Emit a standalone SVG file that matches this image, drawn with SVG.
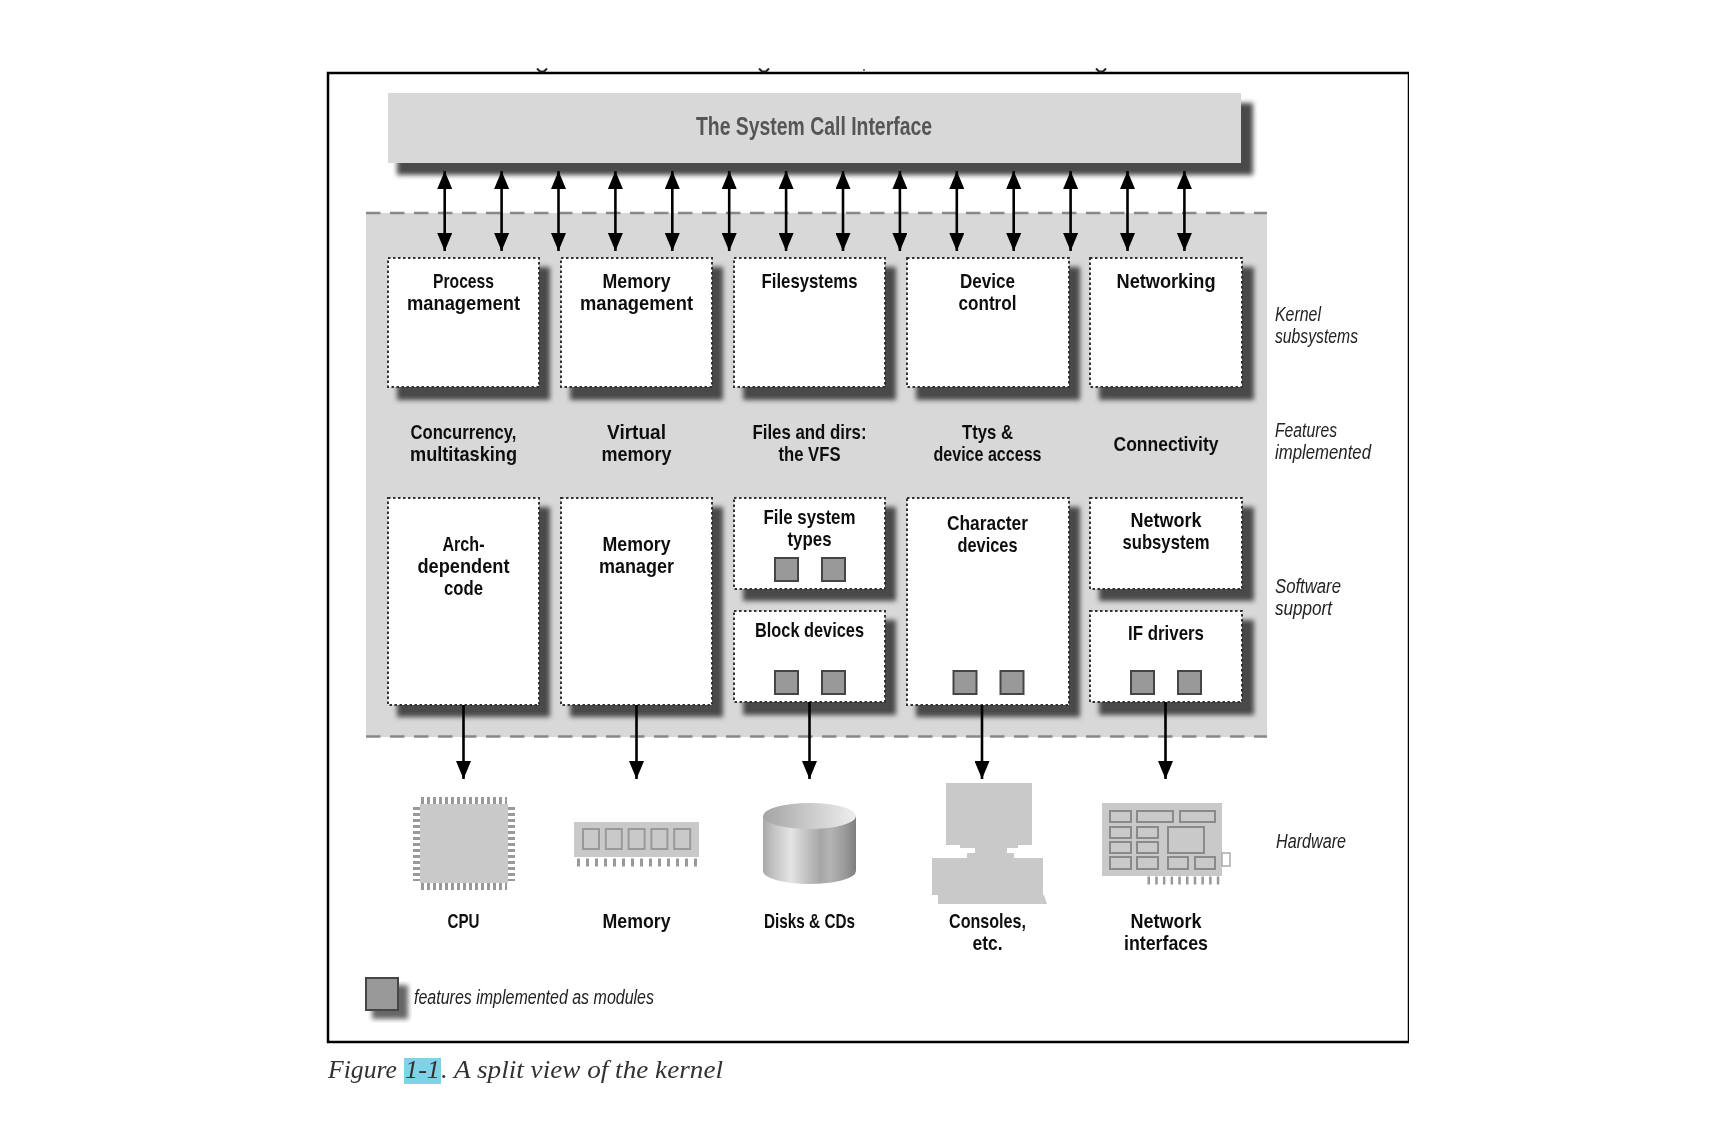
<svg xmlns="http://www.w3.org/2000/svg" width="1734" height="1148" viewBox="0 0 1734 1148">
<defs>
<filter id="soft" x="0" y="0" width="100%" height="100%"><feGaussianBlur stdDeviation="0.6"/></filter>
<filter id="sh" x="-10%" y="-10%" width="120%" height="120%"><feGaussianBlur stdDeviation="2.6"/></filter>
<linearGradient id="diskG" x1="0" x2="1" y1="0" y2="0">
<stop offset="0" stop-color="#a8a8a8"/><stop offset=".12" stop-color="#c4c4c4"/><stop offset=".3" stop-color="#e4e4e4"/><stop offset=".45" stop-color="#c6c6c6"/><stop offset=".62" stop-color="#a6a6a6"/><stop offset=".72" stop-color="#b4b4b4"/><stop offset=".88" stop-color="#9a9a9a"/><stop offset="1" stop-color="#7e7e7e"/>
</linearGradient>
<linearGradient id="diskT" x1="0" x2="1" y1="0" y2="0">
<stop offset="0" stop-color="#a4a4a4"/><stop offset=".5" stop-color="#cacaca"/><stop offset="1" stop-color="#eeeeee"/>
</linearGradient>
<marker id="ah" viewBox="0 0 18 15" refX="18" refY="7.5" markerWidth="18" markerHeight="15" markerUnits="userSpaceOnUse" orient="auto-start-reverse"><path d="M0 0L18 7.5L0 15Z" fill="#000"/></marker>
<rect id="mod" width="23" height="23" class="mod"/>
</defs>
<style>
text{font-family:"Liberation Sans Narrow","Liberation Sans",Arial,sans-serif;fill:#111}
.b{font-size:21px;font-weight:700;text-anchor:middle}
.i{font-size:20px;font-style:italic;fill:#222}
.box{fill:#fff;stroke:#333;stroke-width:2;stroke-dasharray:2.5 2.5}
.shd{fill:#4a4a4a;filter:url(#sh)}
.mod{fill:#999;stroke:#444;stroke-width:2}
.dash{stroke:#888;stroke-width:2.5;stroke-dasharray:14.5 9.5;fill:none}
.arr{stroke:#000;stroke-width:2.6;fill:none}
.hw{fill:#c9c9c9}
.pin{stroke:#999;fill:none}
.chip{fill:none;stroke:#999;stroke-width:2}
</style>
<rect width="1734" height="1148" fill="#fff"/>
<g filter="url(#soft)">
<g id="frame">
<rect x="328" y="73" width="1081" height="969" fill="#fff" stroke="#000" stroke-width="2.5"/>
<path d="M537 68.500L540 71.500H544L547 68.500M759 68.500L762 71.500H766L769 68.500M1096 68.500L1099 71.500H1103L1106 68.500" fill="none" stroke="#222" stroke-width="2"/>
<rect x="863" y="69" width="2" height="2" fill="#777"/>
</g>
<g id="kernel-panel">
<rect x="366" y="213" width="901" height="524" fill="#d8d8d8"/>
<path class="dash" d="M366 213H1267M366 736.500H1267"/>
</g>
<g id="syscall">
<rect class="shd" x="397" y="103" width="856" height="72"/>
<rect x="388" y="93" width="853" height="70" fill="#d8d8d8"/>
<text x="814" y="135" text-anchor="middle" font-size="25" font-weight="700" style="fill:#555" textLength="236" lengthAdjust="spacingAndGlyphs">The System Call Interface</text>
</g>
<g id="process-management">
<rect class="shd" x="397" y="267" width="153" height="133"/>
<rect class="box" x="388" y="258" width="151" height="129"/>
<text class="b" x="463.500" y="287.500" textLength="61" lengthAdjust="spacingAndGlyphs">Process</text>
<text class="b" x="463.500" y="309.500" textLength="113" lengthAdjust="spacingAndGlyphs">management</text>
</g>
<g id="memory-management">
<rect class="shd" x="570" y="267" width="153" height="133"/>
<rect class="box" x="561" y="258" width="151" height="129"/>
<text class="b" x="636.500" y="287.500" textLength="68" lengthAdjust="spacingAndGlyphs">Memory</text>
<text class="b" x="636.500" y="309.500" textLength="113" lengthAdjust="spacingAndGlyphs">management</text>
</g>
<g id="filesystems">
<rect class="shd" x="743" y="267" width="153" height="133"/>
<rect class="box" x="734" y="258" width="151" height="129"/>
<text class="b" x="809.500" y="287.500" textLength="96" lengthAdjust="spacingAndGlyphs">Filesystems</text>
</g>
<g id="device-control">
<rect class="shd" x="916" y="267" width="164" height="133"/>
<rect class="box" x="907" y="258" width="162" height="129"/>
<text class="b" x="987.500" y="287.500" textLength="55" lengthAdjust="spacingAndGlyphs">Device</text>
<text class="b" x="987.500" y="309.500" textLength="58" lengthAdjust="spacingAndGlyphs">control</text>
</g>
<g id="networking">
<rect class="shd" x="1099" y="267" width="155" height="133"/>
<rect class="box" x="1090" y="258" width="152" height="129"/>
<text class="b" x="1166" y="287.500" textLength="99" lengthAdjust="spacingAndGlyphs">Networking</text>
</g>
<g id="features">
<text class="b" x="463.500" y="438.500" textLength="106" lengthAdjust="spacingAndGlyphs">Concurrency,</text>
<text class="b" x="463.500" y="460.500" textLength="107" lengthAdjust="spacingAndGlyphs">multitasking</text>
<text class="b" x="636.500" y="438.500" textLength="59" lengthAdjust="spacingAndGlyphs">Virtual</text>
<text class="b" x="636.500" y="460.500" textLength="70" lengthAdjust="spacingAndGlyphs">memory</text>
<text class="b" x="809.500" y="438.500" textLength="114" lengthAdjust="spacingAndGlyphs">Files and dirs:</text>
<text class="b" x="809.500" y="460.500" textLength="62" lengthAdjust="spacingAndGlyphs">the VFS</text>
<text class="b" x="987.500" y="438.500" textLength="51" lengthAdjust="spacingAndGlyphs">Ttys &amp;</text>
<text class="b" x="987.500" y="460.500" textLength="108" lengthAdjust="spacingAndGlyphs">device access</text>
<text class="b" x="1166" y="450.500" textLength="105" lengthAdjust="spacingAndGlyphs">Connectivity</text>
</g>
<g id="arch-code">
<rect class="shd" x="397" y="507" width="153" height="210"/>
<rect class="box" x="388" y="498" width="151" height="207"/>
<text class="b" x="463.500" y="550.500" textLength="42" lengthAdjust="spacingAndGlyphs">Arch-</text>
<text class="b" x="463.500" y="572.500" textLength="92" lengthAdjust="spacingAndGlyphs">dependent</text>
<text class="b" x="463.500" y="594.500" textLength="39" lengthAdjust="spacingAndGlyphs">code</text>
</g>
<g id="memory-manager">
<rect class="shd" x="570" y="507" width="153" height="210"/>
<rect class="box" x="561" y="498" width="151" height="207"/>
<text class="b" x="636.500" y="550.500" textLength="68" lengthAdjust="spacingAndGlyphs">Memory</text>
<text class="b" x="636.500" y="572.500" textLength="75" lengthAdjust="spacingAndGlyphs">manager</text>
</g>
<g id="fs-types">
<rect class="shd" x="743" y="507" width="153" height="94"/>
<rect class="box" x="734" y="498" width="151" height="91"/>
<text class="b" x="809.500" y="523.500" textLength="92" lengthAdjust="spacingAndGlyphs">File system</text>
<text class="b" x="809.500" y="545.500" textLength="44" lengthAdjust="spacingAndGlyphs">types</text>
<use href="#mod" x="775" y="558"/><use href="#mod" x="822" y="558"/>
</g>
<g id="block-devices">
<rect class="shd" x="743" y="620" width="153" height="95"/>
<rect class="box" x="734" y="611" width="151" height="91"/>
<text class="b" x="809.500" y="636.500" textLength="109" lengthAdjust="spacingAndGlyphs">Block devices</text>
<use href="#mod" x="775" y="671"/><use href="#mod" x="822" y="671"/>
</g>
<g id="character-devices">
<rect class="shd" x="916" y="507" width="164" height="210"/>
<rect class="box" x="907" y="498" width="162" height="207"/>
<text class="b" x="987.500" y="529.500" textLength="81" lengthAdjust="spacingAndGlyphs">Character</text>
<text class="b" x="987.500" y="551.500" textLength="60" lengthAdjust="spacingAndGlyphs">devices</text>
<use href="#mod" x="953.500" y="671"/><use href="#mod" x="1000.500" y="671"/>
</g>
<g id="network-subsystem">
<rect class="shd" x="1099" y="507" width="155" height="94"/>
<rect class="box" x="1090" y="498" width="152" height="91"/>
<text class="b" x="1166" y="526.500" textLength="71" lengthAdjust="spacingAndGlyphs">Network</text>
<text class="b" x="1166" y="548.500" textLength="87" lengthAdjust="spacingAndGlyphs">subsystem</text>
</g>
<g id="if-drivers">
<rect class="shd" x="1099" y="620" width="155" height="95"/>
<rect class="box" x="1090" y="611" width="152" height="91"/>
<text class="b" x="1166" y="639.500" textLength="76" lengthAdjust="spacingAndGlyphs">IF drivers</text>
<use href="#mod" x="1131" y="671"/><use href="#mod" x="1178" y="671"/>
</g>
<g id="connectors">
<g class="arr">
<line x1="444.700" y1="171" x2="444.700" y2="251" marker-start="url(#ah)" marker-end="url(#ah)"/>
<line x1="501.600" y1="171" x2="501.600" y2="251" marker-start="url(#ah)" marker-end="url(#ah)"/>
<line x1="558.500" y1="171" x2="558.500" y2="251" marker-start="url(#ah)" marker-end="url(#ah)"/>
<line x1="615.400" y1="171" x2="615.400" y2="251" marker-start="url(#ah)" marker-end="url(#ah)"/>
<line x1="672.300" y1="171" x2="672.300" y2="251" marker-start="url(#ah)" marker-end="url(#ah)"/>
<line x1="729.200" y1="171" x2="729.200" y2="251" marker-start="url(#ah)" marker-end="url(#ah)"/>
<line x1="786.100" y1="171" x2="786.100" y2="251" marker-start="url(#ah)" marker-end="url(#ah)"/>
<line x1="843" y1="171" x2="843" y2="251" marker-start="url(#ah)" marker-end="url(#ah)"/>
<line x1="899.900" y1="171" x2="899.900" y2="251" marker-start="url(#ah)" marker-end="url(#ah)"/>
<line x1="956.800" y1="171" x2="956.800" y2="251" marker-start="url(#ah)" marker-end="url(#ah)"/>
<line x1="1013.700" y1="171" x2="1013.700" y2="251" marker-start="url(#ah)" marker-end="url(#ah)"/>
<line x1="1070.600" y1="171" x2="1070.600" y2="251" marker-start="url(#ah)" marker-end="url(#ah)"/>
<line x1="1127.500" y1="171" x2="1127.500" y2="251" marker-start="url(#ah)" marker-end="url(#ah)"/>
<line x1="1184.400" y1="171" x2="1184.400" y2="251" marker-start="url(#ah)" marker-end="url(#ah)"/>
</g>
<g class="arr">
<line x1="463.500" y1="705" x2="463.500" y2="779" marker-end="url(#ah)"/>
<line x1="636.500" y1="705" x2="636.500" y2="779" marker-end="url(#ah)"/>
<line x1="809.500" y1="702" x2="809.500" y2="779" marker-end="url(#ah)"/>
<line x1="982" y1="705" x2="982" y2="779" marker-end="url(#ah)"/>
<line x1="1165.500" y1="702" x2="1165.500" y2="779" marker-end="url(#ah)"/>
</g>
</g>
<g id="side-labels">
<text class="i" x="1275" y="320.500" textLength="46" lengthAdjust="spacingAndGlyphs">Kernel</text>
<text class="i" x="1275" y="342.500" textLength="83" lengthAdjust="spacingAndGlyphs">subsystems</text>
<text class="i" x="1275" y="437" textLength="62" lengthAdjust="spacingAndGlyphs">Features</text>
<text class="i" x="1275" y="459" textLength="96" lengthAdjust="spacingAndGlyphs">implemented</text>
<text class="i" x="1275" y="593" textLength="66" lengthAdjust="spacingAndGlyphs">Software</text>
<text class="i" x="1275" y="615" textLength="57" lengthAdjust="spacingAndGlyphs">support</text>
<text class="i" x="1276" y="848" textLength="70" lengthAdjust="spacingAndGlyphs">Hardware</text>
</g>
<g id="cpu">
<rect class="hw" x="420" y="804" width="88" height="79"/>
<path class="pin" stroke-width="7" stroke-dasharray="3 3" d="M421 800.500H507M421 886.500H507"/>
<path class="pin" stroke-width="7" stroke-dasharray="3 3" d="M416.500 807V881M511.500 807V881"/>
<text class="b" x="463.500" y="927.500" textLength="32" lengthAdjust="spacingAndGlyphs">CPU</text>
</g>
<g id="memory-hw">
<rect class="hw" x="574" y="822" width="125" height="35"/>
<g class="chip"><rect x="583" y="829" width="16" height="20"/><rect x="605.800" y="829" width="16" height="20"/><rect x="628.600" y="829" width="16" height="20"/><rect x="651.400" y="829" width="16" height="20"/><rect x="674.200" y="829" width="16" height="20"/></g>
<path class="pin" stroke-width="8" stroke-dasharray="3 6" d="M577 862.500H697"/>
<text class="b" x="636.500" y="927.500" textLength="68" lengthAdjust="spacingAndGlyphs">Memory</text>
</g>
<g id="disks">
<path fill="url(#diskG)" d="M763 816V871A46.500 13 0 0 0 856 871V816Z"/>
<ellipse cx="809.500" cy="816" rx="46.500" ry="13" fill="url(#diskT)"/>
<text class="b" x="809.500" y="927.500" textLength="91" lengthAdjust="spacingAndGlyphs">Disks &amp; CDs</text>
</g>
<g id="console">
<path class="hw" d="M946 783H1032V845H1018V848H1007V853H1014V858H1043V895H1044L1047 904H938V895H932V858H967V853H975V848H960V845H946Z"/>
<text class="b" x="987.500" y="927.500" textLength="77" lengthAdjust="spacingAndGlyphs">Consoles,</text>
<text class="b" x="987.500" y="949.500" textLength="30" lengthAdjust="spacingAndGlyphs">etc.</text>
</g>
<g id="network-card">
<rect class="hw" x="1102" y="803" width="120" height="73"/>
<rect x="1222" y="853" width="8" height="13" fill="#fff" stroke="#aaa" stroke-width="1.500"/>
<g class="chip" style="stroke:#8a8a8a">
<rect x="1110" y="811" width="21" height="11"/><rect x="1137" y="811" width="36" height="11"/><rect x="1180" y="811" width="35" height="11"/>
<rect x="1110" y="827" width="21" height="11"/><rect x="1137" y="827" width="21" height="11"/><rect x="1168" y="827" width="36" height="26"/>
<rect x="1110" y="842" width="21" height="11"/><rect x="1137" y="842" width="21" height="11"/>
<rect x="1110" y="857" width="21" height="12"/><rect x="1137" y="857" width="21" height="12"/><rect x="1168" y="857" width="20" height="12"/><rect x="1195" y="857" width="20" height="12"/>
</g>
<path class="pin" stroke-width="8" stroke-dasharray="2.500 5.200" d="M1147.500 880.500H1220"/>
<text class="b" x="1166" y="927.500" textLength="71" lengthAdjust="spacingAndGlyphs">Network</text>
<text class="b" x="1166" y="949.500" textLength="84" lengthAdjust="spacingAndGlyphs">interfaces</text>
</g>
<g id="legend">
<rect class="shd" x="372" y="985" width="36" height="34" style="fill:#666"/>
<rect x="366" y="978" width="32" height="32" fill="#999" stroke="#444" stroke-width="2"/>
<text class="i" x="414" y="1004" textLength="240" lengthAdjust="spacingAndGlyphs">features implemented as modules</text>
</g>
<g id="caption">
<rect x="404" y="1058" width="37" height="26" fill="#7fd3e6"/>
<text y="1078" style="font-family:'Liberation Serif',serif;font-style:italic;fill:#333" font-size="25"><tspan x="328" textLength="69" lengthAdjust="spacingAndGlyphs">Figure</tspan> <tspan x="405" textLength="35" lengthAdjust="spacingAndGlyphs">1-1</tspan><tspan x="441" textLength="282" lengthAdjust="spacingAndGlyphs">. A split view of the kernel</tspan></text>
</g>
</g>
</svg>
